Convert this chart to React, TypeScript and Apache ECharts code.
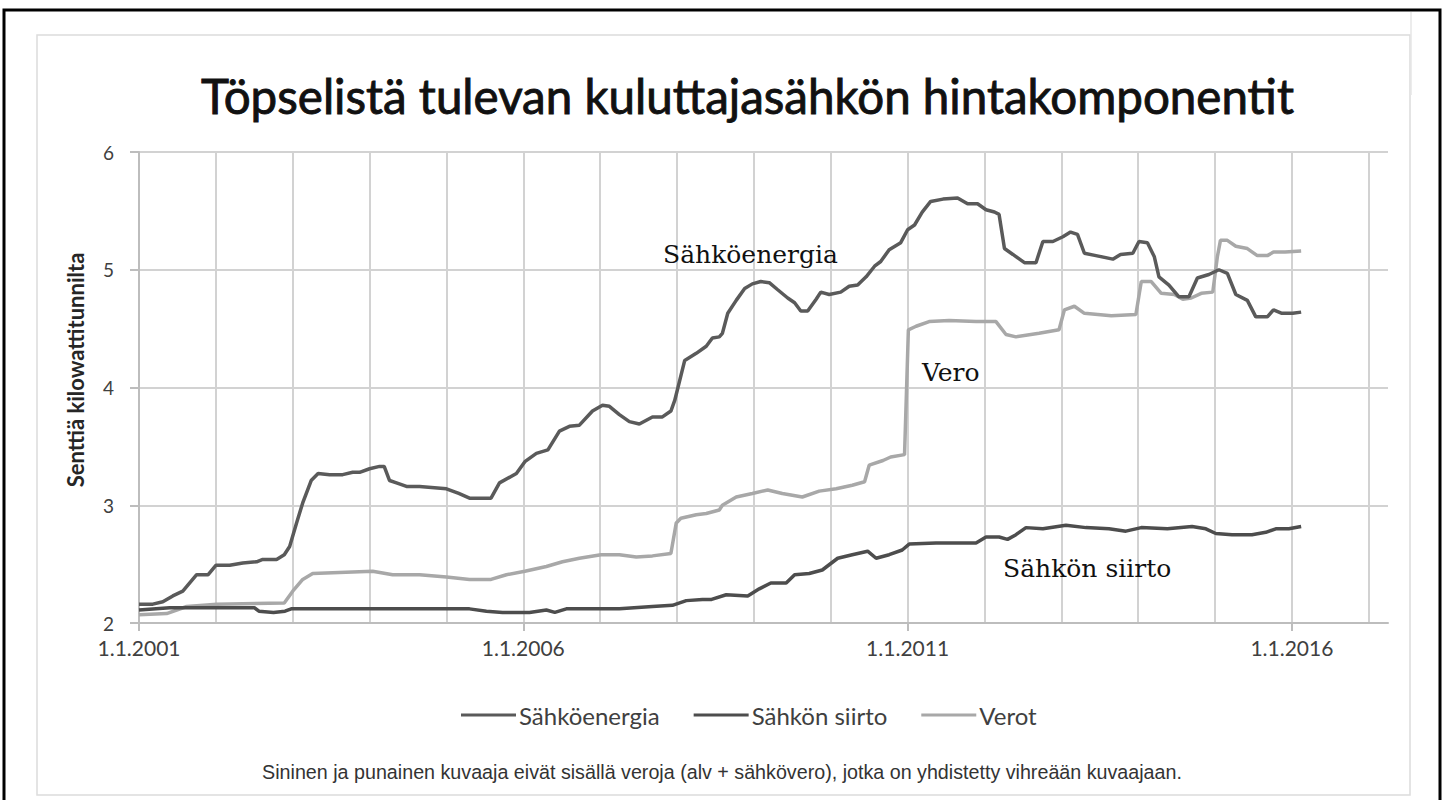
import React, { useEffect, useRef } from "react";
import * as echarts from "echarts";

// ---- Data (decimal year, snt/kWh) ----
const energia: [number, number][] = [
  [2001.0, 2.16], [2001.18, 2.16], [2001.31, 2.18], [2001.44, 2.23], [2001.57, 2.27], [2001.66, 2.34],
  [2001.75, 2.41], [2001.9, 2.41], [2002.0, 2.49], [2002.18, 2.49], [2002.35, 2.51], [2002.53, 2.52],
  [2002.61, 2.54], [2002.79, 2.54], [2002.89, 2.58], [2002.96, 2.65], [2003.05, 2.85], [2003.13, 3.02],
  [2003.24, 3.21], [2003.33, 3.27], [2003.48, 3.26], [2003.65, 3.26], [2003.78, 3.28], [2003.87, 3.28],
  [2004.0, 3.31], [2004.13, 3.33], [2004.19, 3.33], [2004.26, 3.21], [2004.35, 3.19], [2004.48, 3.16],
  [2004.65, 3.16], [2005.0, 3.14], [2005.16, 3.1], [2005.3, 3.06], [2005.58, 3.06], [2005.69, 3.19],
  [2005.91, 3.27], [2006.02, 3.37], [2006.17, 3.44], [2006.32, 3.47], [2006.47, 3.63], [2006.6, 3.67],
  [2006.73, 3.68], [2006.9, 3.8], [2007.03, 3.85], [2007.12, 3.84], [2007.25, 3.77], [2007.38, 3.71],
  [2007.51, 3.69], [2007.68, 3.75], [2007.81, 3.75], [2007.92, 3.8], [2007.97, 3.89], [2008.1, 4.23],
  [2008.25, 4.29], [2008.38, 4.35], [2008.46, 4.42], [2008.55, 4.43], [2008.59, 4.46], [2008.66, 4.63],
  [2008.77, 4.74], [2008.88, 4.84], [2008.98, 4.88], [2009.09, 4.9], [2009.2, 4.89], [2009.31, 4.83],
  [2009.44, 4.76], [2009.53, 4.72], [2009.61, 4.65], [2009.7, 4.65], [2009.81, 4.75], [2009.87, 4.81],
  [2009.98, 4.79], [2010.13, 4.81], [2010.24, 4.86], [2010.35, 4.87], [2010.46, 4.94], [2010.57, 5.03],
  [2010.65, 5.07], [2010.76, 5.17], [2010.91, 5.23], [2011.0, 5.34], [2011.09, 5.38], [2011.19, 5.49],
  [2011.3, 5.58], [2011.46, 5.6], [2011.65, 5.61], [2011.78, 5.56], [2011.91, 5.56], [2012.02, 5.51],
  [2012.13, 5.49], [2012.19, 5.47], [2012.26, 5.18], [2012.37, 5.13], [2012.52, 5.06], [2012.67, 5.06],
  [2012.76, 5.24], [2012.89, 5.24], [2013.02, 5.28], [2013.12, 5.32], [2013.21, 5.3], [2013.3, 5.14],
  [2013.45, 5.12], [2013.67, 5.09], [2013.77, 5.13], [2013.93, 5.14], [2014.01, 5.24], [2014.12, 5.23],
  [2014.21, 5.11], [2014.27, 4.94], [2014.4, 4.87], [2014.53, 4.77], [2014.66, 4.77], [2014.77, 4.93],
  [2014.92, 4.96], [2015.05, 5.0], [2015.16, 4.97], [2015.27, 4.79], [2015.42, 4.74], [2015.53, 4.6],
  [2015.68, 4.6], [2015.76, 4.66], [2015.87, 4.63], [2016.01, 4.63], [2016.12, 4.64],
];

const siirto: [number, number][] = [
  [2001.0, 2.11], [2001.4, 2.13], [2002.0, 2.13], [2002.5, 2.13], [2002.56, 2.1], [2002.75, 2.09],
  [2002.9, 2.1], [2002.98, 2.12], [2004.0, 2.12], [2005.3, 2.12], [2005.52, 2.1], [2005.73, 2.09],
  [2006.08, 2.09], [2006.3, 2.11], [2006.41, 2.09], [2006.56, 2.12], [2007.25, 2.12], [2007.68, 2.14],
  [2007.94, 2.15], [2008.12, 2.19], [2008.33, 2.2], [2008.45, 2.2], [2008.64, 2.24], [2008.92, 2.23],
  [2009.07, 2.29], [2009.22, 2.34], [2009.42, 2.34], [2009.53, 2.41], [2009.72, 2.42], [2009.89, 2.45],
  [2010.09, 2.55], [2010.28, 2.58], [2010.48, 2.61], [2010.59, 2.55], [2010.76, 2.58], [2010.93, 2.62],
  [2011.02, 2.67], [2011.37, 2.68], [2011.89, 2.68], [2012.02, 2.73], [2012.19, 2.73], [2012.3, 2.71],
  [2012.41, 2.75], [2012.54, 2.81], [2012.76, 2.8], [2013.06, 2.83], [2013.32, 2.81], [2013.62, 2.8],
  [2013.84, 2.78], [2014.04, 2.81], [2014.38, 2.8], [2014.7, 2.82], [2014.88, 2.8], [2015.01, 2.76],
  [2015.22, 2.75], [2015.48, 2.75], [2015.66, 2.77], [2015.79, 2.8], [2015.96, 2.8], [2016.12, 2.82],
];

const verot: [number, number][] = [
  [2001.0, 2.07], [2001.36, 2.08], [2001.62, 2.14], [2002.01, 2.16], [2002.89, 2.17], [2003.0, 2.27],
  [2003.13, 2.37], [2003.26, 2.42], [2004.04, 2.44], [2004.3, 2.41], [2004.65, 2.41], [2005.0, 2.39],
  [2005.3, 2.37], [2005.58, 2.37], [2005.78, 2.41], [2006.02, 2.44], [2006.3, 2.48], [2006.51, 2.52],
  [2006.73, 2.55], [2007.01, 2.58], [2007.25, 2.58], [2007.47, 2.56], [2007.68, 2.57], [2007.92, 2.59],
  [2007.99, 2.85], [2008.05, 2.89], [2008.25, 2.92], [2008.38, 2.93], [2008.55, 2.96], [2008.59, 3.0],
  [2008.77, 3.07], [2008.98, 3.1], [2009.18, 3.13], [2009.37, 3.1], [2009.63, 3.07], [2009.85, 3.12],
  [2010.07, 3.14], [2010.28, 3.17], [2010.44, 3.2], [2010.5, 3.34], [2010.68, 3.38], [2010.78, 3.41],
  [2010.96, 3.43], [2011.01, 4.49], [2011.11, 4.52], [2011.28, 4.56], [2011.54, 4.57], [2011.89, 4.56],
  [2012.15, 4.56], [2012.28, 4.45], [2012.41, 4.43], [2012.71, 4.46], [2012.97, 4.49], [2013.04, 4.66],
  [2013.17, 4.69], [2013.3, 4.63], [2013.65, 4.61], [2013.97, 4.62], [2014.04, 4.9], [2014.17, 4.9],
  [2014.3, 4.8], [2014.47, 4.79], [2014.58, 4.75], [2014.69, 4.76], [2014.82, 4.8], [2014.97, 4.81],
  [2015.03, 5.11], [2015.07, 5.25], [2015.16, 5.25], [2015.27, 5.2], [2015.42, 5.18], [2015.55, 5.12],
  [2015.68, 5.12], [2015.76, 5.15], [2015.91, 5.15], [2016.12, 5.16],
];

const seriesNames = ["Sähköenergia", "Sähkön siirto", "Verot"];
const gridYears = [2001, 2002, 2003, 2004, 2005, 2006, 2007, 2008, 2009, 2010, 2011, 2012, 2013, 2014, 2015, 2016, 2017];
const labelYears = [2001, 2006, 2011, 2016];
const yTicks = { min: 2, max: 6, interval: 1 };

const titleText = "Töpselistä tulevan kuluttajasähkön hintakomponentit";
const yName = "Senttiä kilowattitunnilta";
const footnote = "Sininen ja punainen kuvaaja eivät sisällä veroja (alv + sähkövero), jotka on yhdistetty vihreään kuvaajaan.";
const annotations = [
  { text: "Sähköenergia", x: 663, y: 242 },
  { text: "Vero", x: 922, y: 360 },
  { text: "Sähkön siirto", x: 1003, y: 556 },
];

const SANS = "Lato, 'Open Sans', sans-serif";
const SERIF = "'DejaVu Serif', serif";

export default function App() {
  const ref = useRef<HTMLDivElement>(null);

  useEffect(() => {
    if (!ref.current) return;
    const chart = echarts.init(ref.current, undefined, { renderer: "svg" });
    const gridColor = "#d2d2d2";
    const axisColor = "#bdbdbd";
    const xMin = 2001;
    const xMax = 2017.25;

    chart.setOption({
      animation: false,
      backgroundColor: "#ffffff",
      title: {
        text: titleText,
        left: 196,
        top: 66,
        textStyle: {
          fontFamily: SANS,
          fontSize: 47.5,
          fontWeight: "normal",
          color: "#111111",
          textBorderColor: "#111111",
          textBorderWidth: 0.9,
        },
      },
      grid: { left: 139, right: 57, top: 152, bottom: 177, containLabel: false },
      legend: {
        data: seriesNames,
        left: 456,
        top: 698,
        icon: "rect",
        itemWidth: 55,
        itemHeight: 3,
        itemGap: 34,
        textStyle: { fontFamily: SANS, fontSize: 24, color: "#404040", padding: [0, 0, 0, -2] },
      },
      xAxis: [
        {
          type: "value",
          min: xMin,
          max: xMax,
          axisLine: { show: true, lineStyle: { color: axisColor, width: 2 } },
          axisTick: { show: true, customValues: labelYears, length: 8, lineStyle: { color: axisColor, width: 2 } },
          axisLabel: {
            customValues: labelYears,
            formatter: (v: number) => "1.1." + Math.round(v),
            fontFamily: SANS,
            fontSize: 21,
            lineHeight: 21,
            color: "#404040",
            margin: 14,
          },
          splitLine: { show: false },
        },
        {
          type: "value",
          min: xMin,
          max: xMax,
          position: "bottom",
          axisLine: { show: false },
          axisTick: { show: false, customValues: gridYears },
          axisLabel: { show: false, customValues: gridYears },
          splitLine: { show: true, lineStyle: { color: gridColor, width: 2 } },
        },
      ],
      yAxis: {
        type: "value",
        min: yTicks.min,
        max: yTicks.max,
        interval: yTicks.interval,
        axisLine: { show: true, lineStyle: { color: axisColor, width: 2 } },
        axisTick: { show: true, length: 9, lineStyle: { color: axisColor, width: 2 } },
        axisLabel: {
          fontFamily: SANS,
          fontSize: 19,
          lineHeight: 19,
          color: "#404040",
          margin: 25,
        },
        splitLine: { show: true, lineStyle: { color: gridColor, width: 2 } },
      },
      series: [
        {
          name: seriesNames[0],
          type: "line",
          data: energia,
          showSymbol: false,
          xAxisIndex: 0,
          color: "#5a5a5a",
          lineStyle: { width: 3.5, color: "#5a5a5a" },
          z: 4,
        },
        {
          name: seriesNames[1],
          type: "line",
          data: siirto,
          showSymbol: false,
          xAxisIndex: 0,
          color: "#4d4d4d",
          lineStyle: { width: 3.5, color: "#4d4d4d" },
          z: 3,
        },
        {
          name: seriesNames[2],
          type: "line",
          data: verot,
          showSymbol: false,
          xAxisIndex: 0,
          color: "#a8a8a8",
          lineStyle: { width: 3.5, color: "#a8a8a8" },
          z: 2,
        },
      ],
      graphic: [
        {
          type: "rect",
          z: -10,
          silent: true,
          shape: { x: 4, y: 10, width: 1436, height: 805 },
          style: { fill: "#ffffff", stroke: "#000000", lineWidth: 3 },
        },
        {
          type: "rect",
          z: -9,
          silent: true,
          shape: { x: 37, y: 35, width: 1373, height: 760 },
          style: { fill: "#ffffff", stroke: "#dcdcdc", lineWidth: 1.5 },
        },
        {
          type: "line",
          z: -9,
          silent: true,
          shape: { x1: 1411, y1: 12, x2: 1411, y2: 95 },
          style: { stroke: "#e6e6e6", lineWidth: 1.5 },
        },
        {
          type: "text",
          rotation: Math.PI / 2,
          x: 75,
          y: 370,
          style: {
            text: yName,
            fontFamily: SANS,
            fontSize: 22,
            fontWeight: "bold",
            fill: "#262626",
            align: "center",
            verticalAlign: "middle",
          },
        },
        ...annotations.map((a) => ({
          type: "text",
          x: a.x,
          y: a.y,
          z: 10,
          style: { text: a.text, fontFamily: SERIF, fontSize: 25, fill: "#111111", align: "left", verticalAlign: "top" },
        })),
        {
          type: "text",
          x: 722,
          y: 772,
          style: {
            text: footnote,
            fontFamily: "'Liberation Sans', Arial, sans-serif",
            fontSize: 19.7,
            fill: "#333333",
            align: "center",
            verticalAlign: "middle",
          },
        },
      ],
    });

    return () => chart.dispose();
  }, []);

  return (
    <div
      ref={ref}
      style={{ position: "absolute", left: 0, top: 0, width: 1445, height: 800, background: "#fff" }}
    />
  );
}
